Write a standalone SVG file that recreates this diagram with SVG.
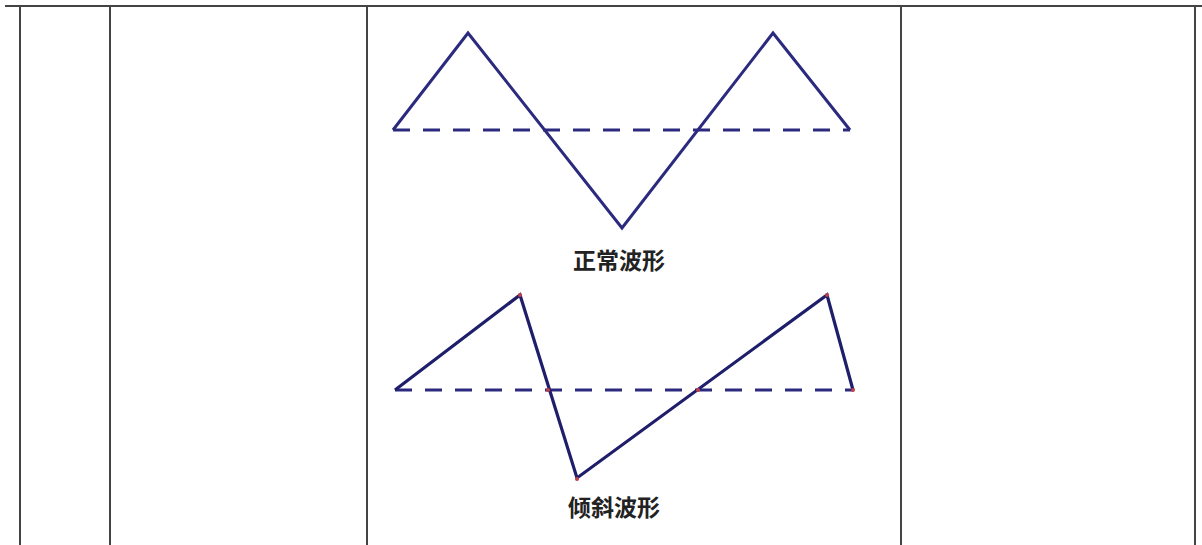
<svg xmlns="http://www.w3.org/2000/svg" width="1202" height="545" viewBox="0 0 1202 545">
<style>
.grid{stroke:#444;stroke-width:2;fill:none}
.wave{stroke:#2b2a7e;stroke-width:3;fill:none;stroke-linejoin:miter}
.wave2{stroke:#1f1e6a;stroke-width:3.2;fill:none}
.axis{stroke:#2b2a7e;stroke-width:3;fill:none;stroke-dasharray:17 13}
.lbl{font-family:"Noto Sans CJK SC","Noto Sans CJK JP",sans-serif;font-weight:bold;font-size:23px;fill:#222;text-anchor:middle}
.dot{fill:#c0404a}
</style>
<rect width="1202" height="545" fill="#fff"/>
<g id="table">
<line class="grid" x1="5" y1="6" x2="1202" y2="6"/>
<line class="grid" x1="20" y1="6" x2="20" y2="545"/>
<line class="grid" x1="110" y1="6" x2="110" y2="545"/>
<line class="grid" x1="367" y1="6" x2="367" y2="545"/>
<line class="grid" x1="901" y1="6" x2="901" y2="545"/>
<line class="grid" x1="1195" y1="6" x2="1195" y2="545"/>
</g>
<g id="normal-wave">
<line class="axis" x1="393" y1="130" x2="850" y2="130"/>
<polyline class="wave" points="393,130 468,33 622,228 773,33 850,130"/>
<text class="lbl" x="619" y="269">正常波形</text>
</g>
<g id="tilted-wave">
<line class="axis" x1="395" y1="390" x2="853" y2="390"/>
<polyline class="wave2" points="395,390 520,295 577,478 827,295 853,390"/>
<circle class="dot" cx="520" cy="295" r="2"/>
<circle class="dot" cx="577" cy="479" r="2"/>
<circle class="dot" cx="827" cy="295" r="2"/>
<circle class="dot" cx="853" cy="390" r="2"/>
<circle class="dot" cx="548" cy="390" r="2"/>
<circle class="dot" cx="698" cy="390" r="2"/>
<text class="lbl" x="614" y="516">倾斜波形</text>
</g>
</svg>
